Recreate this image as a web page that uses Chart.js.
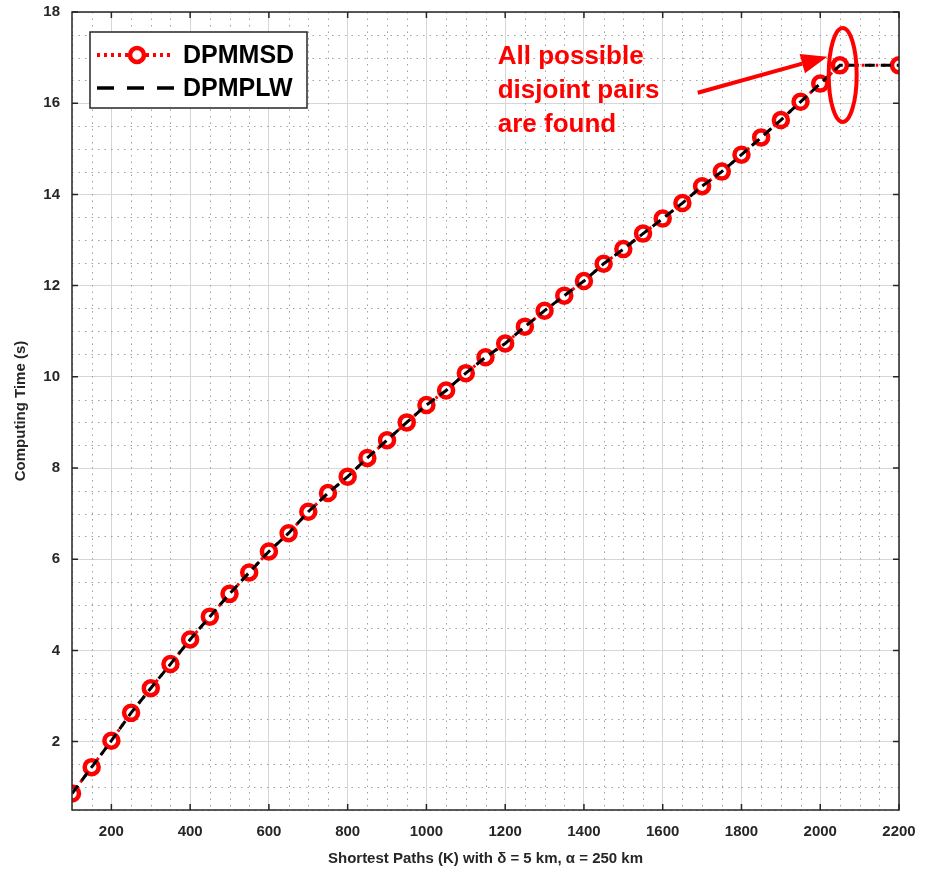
<!DOCTYPE html>
<html>
<head>
<meta charset="utf-8">
<script src="https://cdn.jsdelivr.net/npm/chart.js@4.4.1/dist/chart.umd.min.js"></script>
<style>
  html, body { margin: 0; padding: 0; background: #ffffff; }
  #wrap { width: 937px; height: 874px; }
</style>
</head>
<body>
<div id="wrap"><canvas id="chart" width="937" height="874"></canvas></div>
<script>
// Number of shortest paths K
const pathCounts = [100, 150, 200, 250, 300, 350, 400, 450, 500, 550, 600, 650, 700, 750, 800,
  850, 900, 950, 1000, 1050, 1100, 1150, 1200, 1250, 1300, 1350, 1400, 1450, 1500, 1550, 1600,
  1650, 1700, 1750, 1800, 1850, 1900, 1950, 2000, 2050, 2200];

// Computing time (s) for each method
const timeDPMMSD = [0.86, 1.44, 2.02, 2.63, 3.17, 3.70, 4.24, 4.74, 5.24, 5.71, 6.17, 6.57, 7.04,
  7.45, 7.81, 8.22, 8.61, 9.00, 9.38, 9.70, 10.08, 10.43, 10.73, 11.10, 11.45, 11.78, 12.10,
  12.48, 12.80, 13.14, 13.47, 13.81, 14.18, 14.50, 14.87, 15.25, 15.63, 16.03, 16.43, 16.83, 16.83];
const timeDPMPLW = [0.86, 1.44, 2.02, 2.63, 3.17, 3.70, 4.24, 4.74, 5.24, 5.71, 6.17, 6.57, 7.04,
  7.45, 7.81, 8.22, 8.61, 9.00, 9.38, 9.70, 10.08, 10.43, 10.73, 11.10, 11.45, 11.78, 12.10,
  12.48, 12.80, 13.14, 13.47, 13.81, 14.18, 14.50, 14.87, 15.25, 15.63, 16.03, 16.43, 16.83, 16.83];

// Axis ticks
const xTickValues = [200, 400, 600, 800, 1000, 1200, 1400, 1600, 1800, 2000, 2200];
const yTickValues = [2, 4, 6, 8, 10, 12, 14, 16, 18];
const xRange = [100, 2200];
const yRange = [0.5, 18];
const xMinorStep = 50;
const yMinorStep = 0.5;

// Annotation text
const noteLines = ['All possible', 'disjoint pairs', 'are found'];

const RED = '#ff0000';
const AXIS_COLOR = '#262626';
const FONT = "'Liberation Sans', Arial, Helvetica, sans-serif";

const matlabAxes = {
  id: 'matlabAxes',
  beforeDatasetsDraw(chart) {
    const { ctx, chartArea: a, scales: { x, y } } = chart;
    ctx.save();
    ctx.strokeStyle = '#a0a0a0';
    ctx.lineWidth = 1;
    ctx.setLineDash([1.5, 5]);
    for (let v = xRange[0]; v <= xRange[1]; v += xMinorStep) {
      if (v % 200 === 0) continue;
      const px = Math.round(x.getPixelForValue(v)) + 0.5;
      ctx.beginPath(); ctx.moveTo(px, a.top); ctx.lineTo(px, a.bottom); ctx.stroke();
    }
    for (let v = yRange[0]; v <= yRange[1] + 1e-9; v += yMinorStep) {
      if (Math.abs(v % 2) < 1e-9) continue;
      const py = Math.round(y.getPixelForValue(v)) + 0.5;
      ctx.beginPath(); ctx.moveTo(a.left, py); ctx.lineTo(a.right, py); ctx.stroke();
    }
    ctx.restore();
  },
  afterDatasetsDraw(chart) {
    const { ctx, chartArea: a, scales: { x, y } } = chart;
    ctx.save();
    // box and inward ticks
    ctx.strokeStyle = AXIS_COLOR;
    ctx.lineWidth = 1.5;
    ctx.setLineDash([]);
    ctx.strokeRect(a.left, a.top, a.right - a.left, a.bottom - a.top);
    const tl = 6;
    ctx.beginPath();
    xTickValues.forEach(v => {
      const px = x.getPixelForValue(v);
      ctx.moveTo(px, a.bottom); ctx.lineTo(px, a.bottom - tl);
      ctx.moveTo(px, a.top); ctx.lineTo(px, a.top + tl);
    });
    yTickValues.forEach(v => {
      const py = y.getPixelForValue(v);
      ctx.moveTo(a.left, py); ctx.lineTo(a.left + tl, py);
      ctx.moveTo(a.right, py); ctx.lineTo(a.right - tl, py);
    });
    ctx.stroke();

    // ellipse round the saturated point
    const ex = x.getPixelForValue(2057), ey = y.getPixelForValue(16.62);
    ctx.strokeStyle = RED;
    ctx.lineWidth = 4;
    ctx.beginPath();
    ctx.ellipse(ex, ey, 14, 47, 0, 0, Math.PI * 2);
    ctx.stroke();

    // arrow
    const x0 = x.getPixelForValue(1689), y0 = y.getPixelForValue(16.23);
    const x1 = x.getPixelForValue(2018), y1 = y.getPixelForValue(17.02);
    const ang = Math.atan2(y1 - y0, x1 - x0);
    const hl = 26, hw = 10;
    ctx.beginPath();
    ctx.moveTo(x0, y0);
    ctx.lineTo(x1 - hl * Math.cos(ang), y1 - hl * Math.sin(ang));
    ctx.stroke();
    ctx.fillStyle = RED;
    ctx.beginPath();
    ctx.moveTo(x1, y1);
    ctx.lineTo(x1 - hl * Math.cos(ang) + hw * Math.sin(ang), y1 - hl * Math.sin(ang) - hw * Math.cos(ang));
    ctx.lineTo(x1 - hl * Math.cos(ang) - hw * Math.sin(ang), y1 - hl * Math.sin(ang) + hw * Math.cos(ang));
    ctx.closePath();
    ctx.fill();

    // note text
    ctx.font = 'bold 26px ' + FONT;
    ctx.textAlign = 'left';
    ctx.textBaseline = 'middle';
    const tx = x.getPixelForValue(1181);
    const noteY = [17.02, 16.27, 15.53];
    noteLines.forEach((t, i) => ctx.fillText(t, tx, y.getPixelForValue(noteY[i])));

    // legend
    const lx = a.left + 18, ly = a.top + 20, lw = 217, lh = 76;
    ctx.fillStyle = '#ffffff';
    ctx.fillRect(lx, ly, lw, lh);
    ctx.strokeStyle = AXIS_COLOR;
    ctx.lineWidth = 1.5;
    ctx.strokeRect(lx, ly, lw, lh);
    const ds = chart.data.datasets;
    const r1 = ly + 23, r2 = ly + 56;
    // DPMMSD sample
    ctx.strokeStyle = ds[0].borderColor;
    ctx.lineWidth = 4;
    ctx.setLineDash([3, 4]);
    ctx.beginPath(); ctx.moveTo(lx + 7, r1); ctx.lineTo(lx + 84, r1); ctx.stroke();
    ctx.setLineDash([]);
    ctx.fillStyle = '#ffffff';
    ctx.beginPath(); ctx.arc(lx + 47, r1, 7, 0, Math.PI * 2); ctx.fill();
    ctx.lineWidth = 4.5;
    ctx.stroke();
    // DPMPLW sample
    ctx.strokeStyle = ds[1].borderColor;
    ctx.lineWidth = 3.5;
    ctx.setLineDash([17, 13]);
    ctx.beginPath(); ctx.moveTo(lx + 7, r2); ctx.lineTo(lx + 88, r2); ctx.stroke();
    ctx.setLineDash([]);
    ctx.fillStyle = '#000000';
    ctx.font = 'bold 25px ' + FONT;
    ctx.textBaseline = 'middle';
    ctx.fillText(ds[0].label, lx + 93, r1 + 1);
    ctx.fillText(ds[1].label, lx + 93, r2 + 1);
    ctx.restore();
  }
};

new Chart(document.getElementById('chart'), {
  type: 'line',
  data: {
    labels: pathCounts,
    datasets: [
      {
        label: 'DPMMSD',
        data: pathCounts.map((k, i) => ({ x: k, y: timeDPMMSD[i] })),
        borderColor: RED,
        borderWidth: 3,
        borderDash: [2.5, 4.5],
        pointRadius: 7,
        pointBorderWidth: 4.5,
        pointBorderColor: RED,
        pointBackgroundColor: '#ffffff',
        pointStyle: 'circle',
        tension: 0,
        order: 2
      },
      {
        label: 'DPMPLW',
        data: pathCounts.map((k, i) => ({ x: k, y: timeDPMPLW[i] })),
        borderColor: '#000000',
        borderWidth: 3,
        borderDash: [10, 6],
        pointRadius: 0,
        tension: 0,
        order: 1
      }
    ]
  },
  options: {
    responsive: false,
    animation: false,
    devicePixelRatio: 1,
    layout: { padding: { top: 12, right: 38, left: 0, bottom: 0 } },
    plugins: { legend: { display: false }, tooltip: { enabled: false } },
    scales: {
      x: {
        type: 'linear',
        min: xRange[0],
        max: xRange[1],
        afterBuildTicks: s => { s.ticks = xTickValues.map(v => ({ value: v })); },
        afterFit: s => { s.height = 64; s.paddingLeft = 0; s.paddingRight = 0; },
        border: { display: false },
        grid: { color: '#d6d6d6', lineWidth: 1, drawTicks: false },
        ticks: {
          color: AXIS_COLOR, padding: 13, maxRotation: 0, autoSkip: false,
          font: { family: FONT, size: 15, weight: 'bold' },
          callback: v => String(v)
        },
        title: {
          display: true,
          text: 'Shortest Paths (K) with δ = 5 km, α = 250 km',
          color: AXIS_COLOR,
          font: { family: FONT, size: 15, weight: 'bold' },
          padding: { top: 0, bottom: 6 }
        }
      },
      y: {
        type: 'linear',
        min: yRange[0],
        max: yRange[1],
        afterBuildTicks: s => { s.ticks = yTickValues.map(v => ({ value: v })); },
        afterFit: s => { s.width = 72; s.paddingTop = 0; s.paddingBottom = 0; },
        border: { display: false },
        grid: { color: '#d6d6d6', lineWidth: 1, drawTicks: false },
        ticks: {
          color: AXIS_COLOR, padding: 12,
          font: { family: FONT, size: 15, weight: 'bold' },
          callback: v => String(v)
        },
        title: {
          display: true,
          text: 'Computing Time (s)',
          color: AXIS_COLOR,
          font: { family: FONT, size: 15, weight: 'bold' },
          padding: { top: 12, bottom: 0 }
        }
      }
    }
  },
  plugins: [matlabAxes]
});
</script>
</body>
</html>
